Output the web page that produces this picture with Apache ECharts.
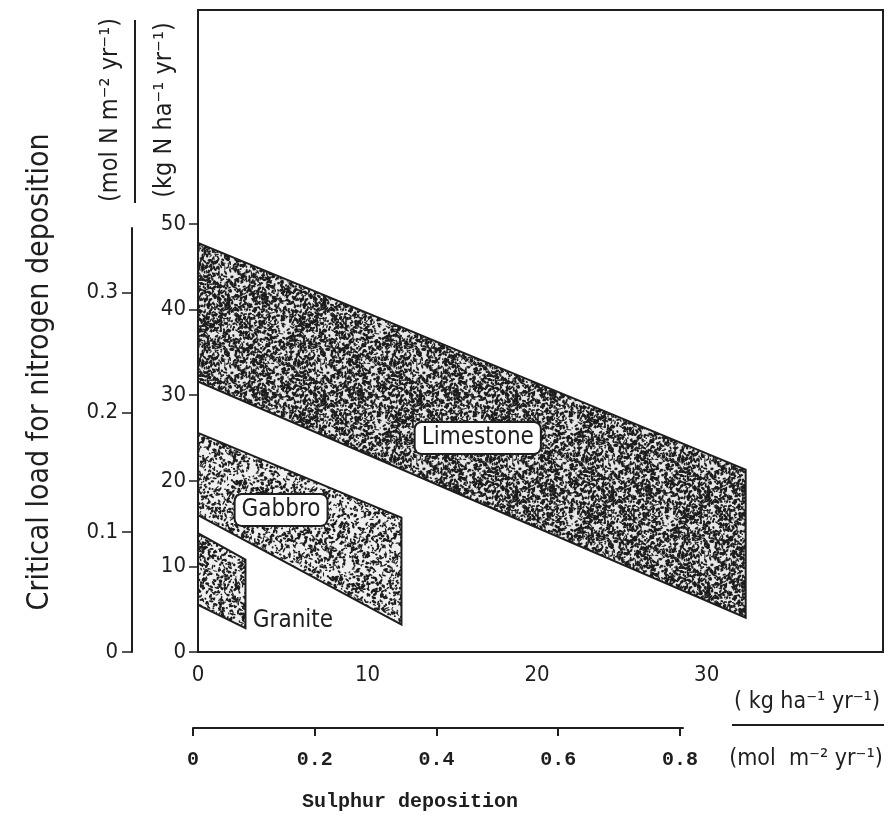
<!DOCTYPE html>
<html>
<head>
<meta charset="utf-8">
<script src="https://cdn.jsdelivr.net/npm/echarts@6/dist/echarts.min.js"></script>
<style>html,body{margin:0;padding:0;background:#fff}#c{width:893px;height:818px}</style>
</head>
<body>
<div id="c"></div>
<script>
// ---- data ----
const rockTypes = ['Limestone', 'Gabbro', 'Granite'];
const xStart = [0, 0, 0];
const xEnd = [32.3, 12.0, 2.8];
const upperStart = [47.8, 25.6, 13.9];
const upperEnd = [21.3, 15.7, 10.8];
const lowerStart = [31.6, 16.0, 5.5];
const lowerEnd = [4.0, 3.2, 2.8];
const labelX = [16.5, 4.9, 5.6];
const labelY = [25.0, 16.6, 3.7];
const labelBoxed = [true, true, false];
const kgSTicks = [0, 10, 20, 30];
const kgNTicks = [0, 10, 20, 30, 40, 50];
const molNTicks = [0, 0.1, 0.2, 0.3];
const molSTicks = [0, 0.2, 0.4, 0.6, 0.8];

// ---- stipple texture (deterministic) ----
function hash(i) { const s = Math.sin(i * 12.9898 + 78.233) * 43758.5453; return s - Math.floor(s); }
function makeStipple(n, seed, bg) {
  const c = document.createElement('canvas');
  c.width = 96; c.height = 96;
  const g = c.getContext('2d');
  g.fillStyle = bg; g.fillRect(0, 0, 96, 96);
  g.fillStyle = '#1c1c1c';
  for (let k = 0; k < n; k++) {
    const x = hash(k * 5 + seed) * 96, y = hash(k * 5 + 1 + seed) * 96;
    const rx = 0.7 + hash(k * 5 + 2 + seed) * 1.8, ry = 0.5 + hash(k * 5 + 3 + seed) * 0.9;
    const a = hash(k * 5 + 4 + seed) * Math.PI;
    for (const dx of [-96, 0, 96]) for (const dy of [-96, 0, 96]) {
      g.beginPath(); g.ellipse(x + dx, y + dy, rx, ry, a, 0, Math.PI * 2); g.fill();
    }
  }
  return c;
}
const patterns = [makeStipple(1600, 7, '#e6e6e6'), makeStipple(950, 31, '#efefef'), makeStipple(950, 53, '#efefef')];

const FONT = "'DejaVu Sans Condensed', 'DejaVu Sans', sans-serif";
const MONO = "'Liberation Mono', 'DejaVu Sans Mono', monospace";
const INK = '#1e1e1e';

const chart = echarts.init(document.getElementById('c'), null, { renderer: 'canvas' });
const option = {
  animation: false,
  grid: [
    { left: 198, top: 10, width: 685, height: 642, show: true, borderColor: INK, borderWidth: 2, backgroundColor: 'transparent' },
    { left: 132, top: 228, width: 1, height: 424 },
    { left: 193, top: 727, width: 490, height: 1 }
  ],
  xAxis: [
    { gridIndex: 0, type: 'value', min: 0, max: 40.4,
      axisLine: { show: true, lineStyle: { color: INK, width: 2 } },
      axisTick: { show: false },
      splitLine: { show: false },
      axisLabel: { customValues: kgSTicks, fontSize: 22, color: INK, fontFamily: FONT, margin: 12 } },
    { gridIndex: 1, type: 'value', show: false, min: 0, max: 1 },
    { gridIndex: 2, type: 'value', min: 0, max: 0.805, position: 'bottom',
      axisLine: { show: true, lineStyle: { color: INK, width: 2 } },
      axisTick: { show: true, customValues: molSTicks, length: 8, lineStyle: { color: INK, width: 2 } },
      splitLine: { show: false },
      axisLabel: { customValues: molSTicks, fontSize: 20, fontWeight: 'bold', color: INK, fontFamily: MONO, margin: 22,
        formatter: v => (v === 0 ? '0' : v.toFixed(1)) } }
  ],
  yAxis: [
    { gridIndex: 0, type: 'value', min: 0, max: 75,
      axisLine: { show: true, lineStyle: { color: INK, width: 2 } },
      axisTick: { show: true, customValues: kgNTicks, length: 9, lineStyle: { color: INK, width: 1.5 } },
      splitLine: { show: false },
      axisLabel: { customValues: kgNTicks, fontSize: 22, color: INK, fontFamily: FONT, margin: 12 } },
    { gridIndex: 1, type: 'value', min: 0, max: 0.354, position: 'left',
      axisLine: { show: true, lineStyle: { color: INK, width: 2 } },
      axisTick: { show: true, customValues: molNTicks, length: 10, lineStyle: { color: INK, width: 1.5 } },
      splitLine: { show: false },
      axisLabel: { customValues: molNTicks, fontSize: 22, color: INK, fontFamily: FONT, margin: 14,
        formatter: v => (v === 0 ? '0' : v.toFixed(1)) } },
    { gridIndex: 2, type: 'value', show: false, min: 0, max: 1 }
  ],
  series: [{
    type: 'custom',
    xAxisIndex: 0, yAxisIndex: 0,
    data: rockTypes.map((n, i) => [xStart[i], xEnd[i], upperStart[i], upperEnd[i], lowerStart[i], lowerEnd[i], labelX[i], labelY[i]]),
    renderItem: function (params, api) {
      const i = params.dataIndex;
      const pts = [
        api.coord([api.value(0), api.value(2)]),
        api.coord([api.value(1), api.value(3)]),
        api.coord([api.value(1), api.value(5)]),
        api.coord([api.value(0), api.value(4)])
      ];
      const lp = api.coord([api.value(6), api.value(7)]);
      const txtStyle = {
        text: rockTypes[i], x: lp[0], y: lp[1], align: 'center', verticalAlign: 'middle',
        fontSize: 24, fontFamily: FONT, fill: INK
      };
      if (labelBoxed[i]) {
        Object.assign(txtStyle, { backgroundColor: '#fff', borderColor: INK, borderWidth: 2, borderRadius: 6, padding: [3, 6, 3, 6] });
      }
      return {
        type: 'group',
        children: [
          { type: 'polygon', shape: { points: pts },
            style: { fill: { image: patterns[i], repeat: 'repeat' }, stroke: INK, lineWidth: 2 } },
          { type: 'text', style: txtStyle, z2: 10 }
        ]
      };
    }
  }],
  graphic: [
    { type: 'text', x: 40, y: 372, rotation: Math.PI / 2,
      style: { text: 'Critical load for nitrogen deposition', fontSize: 30, fontFamily: FONT, fill: INK, align: 'center', verticalAlign: 'middle' } },
    { type: 'text', x: 110, y: 110, rotation: Math.PI / 2,
      style: { text: '(mol N m⁻² yr⁻¹)', fontSize: 25, fontFamily: FONT, fill: INK, align: 'center', verticalAlign: 'middle' } },
    { type: 'line', shape: { x1: 135, y1: 20, x2: 135, y2: 203 }, style: { stroke: INK, lineWidth: 2 } },
    { type: 'text', x: 164, y: 110, rotation: Math.PI / 2,
      style: { text: '(kg N ha⁻¹ yr⁻¹)', fontSize: 25, fontFamily: FONT, fill: INK, align: 'center', verticalAlign: 'middle' } },
    { type: 'text', x: 807, y: 702,
      style: { text: '( kg ha⁻¹ yr⁻¹)', fontSize: 23, fontFamily: FONT, fill: INK, align: 'center', verticalAlign: 'middle' } },
    { type: 'line', shape: { x1: 732, y1: 725, x2: 884, y2: 725 }, style: { stroke: INK, lineWidth: 2 } },
    { type: 'text', x: 806, y: 759,
      style: { text: '(mol  m⁻² yr⁻¹)', fontSize: 23, fontFamily: FONT, fill: INK, align: 'center', verticalAlign: 'middle' } },
    { type: 'text', x: 410, y: 802,
      style: { text: 'Sulphur deposition', fontSize: 20, fontWeight: 'bold', fontFamily: MONO, fill: INK, align: 'center', verticalAlign: 'middle' } }
  ]
};
chart.setOption(option);
</script>
</body>
</html>
